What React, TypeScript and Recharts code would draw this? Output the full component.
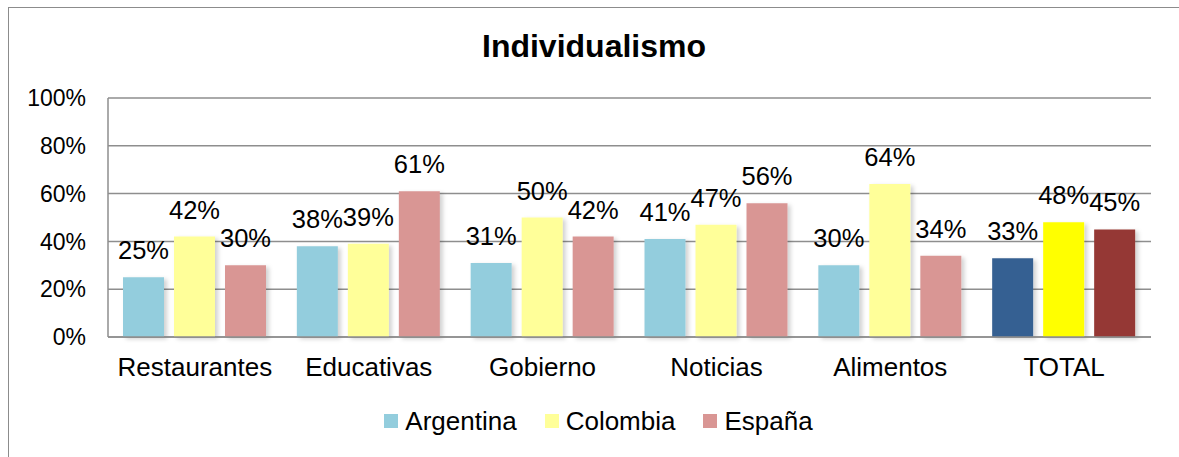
import React from 'react'
import { BarChart, Bar, XAxis, YAxis, CartesianGrid, Legend, LabelList, Cell } from 'recharts'

const categories = ['Restaurantes', 'Educativas', 'Gobierno', 'Noticias', 'Alimentos', 'TOTAL']
const argentina = [25, 38, 31, 41, 30, 33]
const colombia = [42, 39, 50, 47, 64, 48]
const espana = [30, 61, 42, 56, 34, 45]
const yTicks = [0, 20, 40, 60, 80, 100]

const SERIES = [
  { key: 'argentina', name: 'Argentina', color: '#93cddd', totalColor: '#366092' },
  { key: 'colombia', name: 'Colombia', color: '#ffff99', totalColor: '#ffff00' },
  { key: 'espana', name: 'España', color: '#d99694', totalColor: '#953735' },
]

const data = categories.map((name, i) => ({
  name,
  argentina: argentina[i],
  colombia: colombia[i],
  espana: espana[i],
}))

const FONT = '"Liberation Sans", Arial, sans-serif'
const GRID = '#8e8e8e'

function renderLegend() {
  return (
    <div style={{ display: 'flex', justifyContent: 'center', alignItems: 'center', height: 30, paddingLeft: 18 }}>
      {SERIES.map((s, i) => (
        <div key={s.key} style={{ display: 'flex', alignItems: 'center', marginLeft: i === 0 ? 0 : 28 }}>
          <span style={{ width: 14, height: 14, background: s.color, display: 'inline-block', marginRight: 7 }} />
          <span style={{ fontSize: 26, lineHeight: '30px', color: '#000' }}>{s.name}</span>
        </div>
      ))}
    </div>
  )
}

export default function App() {
  return (
    <div
      style={{
        position: 'absolute',
        left: 0,
        top: 0,
        width: 1179,
        height: 457,
        overflow: 'hidden',
        background: '#fff',
        fontFamily: FONT,
      }}
    >
      {/* chart frame */}
      <div
        style={{
          position: 'absolute',
          left: 8,
          top: 7,
          width: 1172,
          height: 470,
          border: '1.5px solid #8c8c8c',
          boxSizing: 'border-box',
        }}
      />
      <div
        style={{
          position: 'absolute',
          left: 8,
          top: 30,
          width: 1172,
          textAlign: 'center',
          fontSize: 32,
          lineHeight: 1,
          fontWeight: 'bold',
          color: '#000',
        }}
      >
        Individualismo
      </div>
      <div style={{ position: 'absolute', left: 0, top: 0 }}>
        <BarChart
          width={1179}
          height={457}
          data={data}
          margin={{ top: 98, right: 28, left: 8, bottom: 50 }}
          barCategoryGap={15}
          barGap={10}
        >
          <defs>
            <filter id="barShadow" x="-20%" y="-10%" width="140%" height="120%">
              <feDropShadow dx="3" dy="2" stdDeviation="2" floodColor="#000" floodOpacity="0.18" />
            </filter>
          </defs>
          <CartesianGrid vertical={false} stroke={GRID} strokeWidth={1.5} />
          <XAxis
            dataKey="name"
            height={40}
            tickLine={false}
            axisLine={{ stroke: GRID, strokeWidth: 1.5 }}
            tick={{ fill: '#000', fontSize: 26, dy: 13 }}
            interval={0}
          />
          <YAxis
            width={100}
            domain={[0, 100]}
            ticks={yTicks}
            tickLine={false}
            tickMargin={16}
            axisLine={{ stroke: GRID, strokeWidth: 1.5 }}
            tick={{ fill: '#000', fontSize: 23 }}
            tickFormatter={(v: number) => `${v}%`}
          />
          <Legend
            verticalAlign="bottom"
            content={renderLegend}
            wrapperStyle={{ top: 406, bottom: 'auto', left: 0, width: 1179, height: 30 }}
          />
          {SERIES.map((s) => (
            <Bar
              key={s.key}
              dataKey={s.key}
              name={s.name}
              fill={s.color}
              barSize={41}
              filter="url(#barShadow)"
              isAnimationActive={false}
            >
              {data.map((d, i) => (
                <Cell key={`${s.key}-${i}`} fill={d.name === 'TOTAL' ? s.totalColor : s.color} />
              ))}
              <LabelList
                dataKey={s.key}
                position="top"
                offset={18}
                fill="#000"
                fontSize={25.5}
                formatter={(v: number) => `${v}%`}
              />
            </Bar>
          ))}
        </BarChart>
      </div>
    </div>
  )
}
